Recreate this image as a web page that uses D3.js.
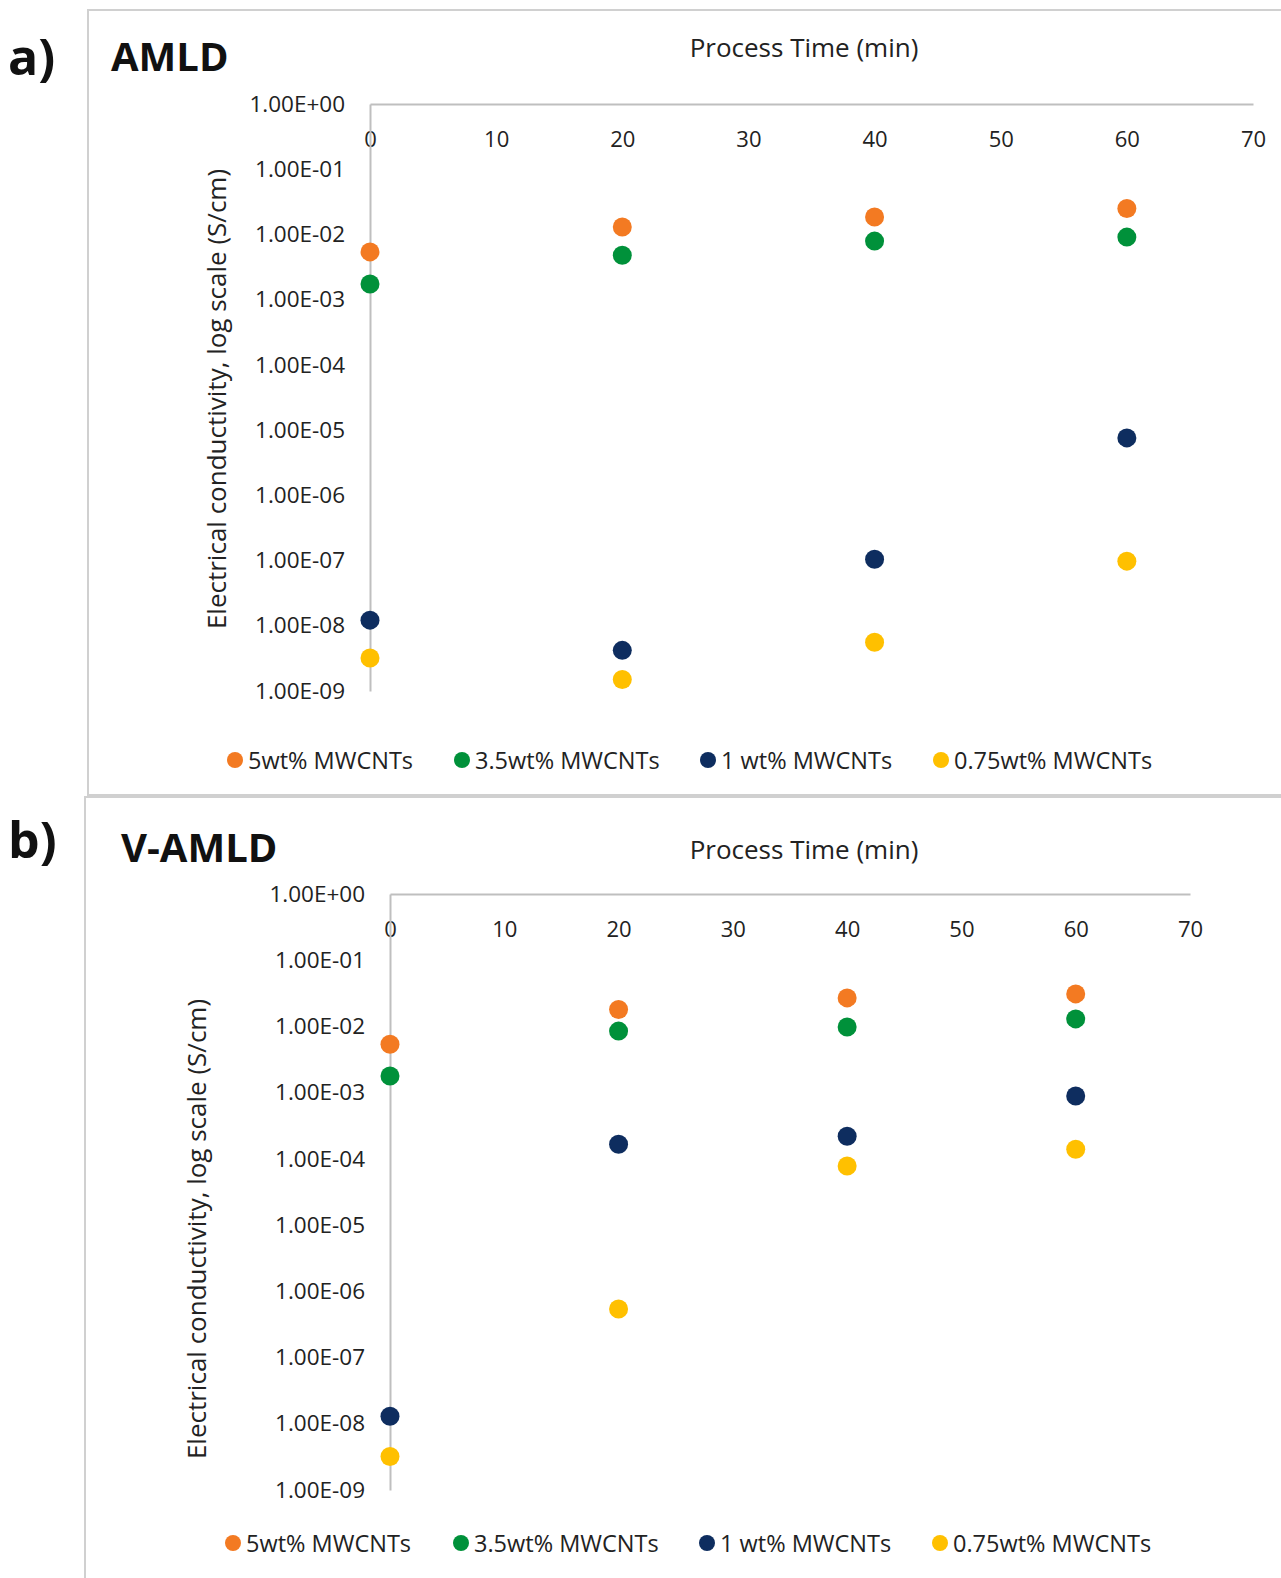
<!DOCTYPE html>
<html><head><meta charset="utf-8">
<script src="https://cdn.jsdelivr.net/npm/d3@7"></script>
<style>body{margin:0;background:#fff}svg{display:block}text{font-family:"Open Sans",sans-serif}</style>
</head><body>
<svg id="c" width="1281" height="1578"></svg>
<script>
const seriesNames = ["5wt% MWCNTs","3.5wt% MWCNTs","1 wt% MWCNTs","0.75wt% MWCNTs"];
const seriesColors = ["#F37A22","#00913A","#0E2D5F","#FFC000"];
const times = [0,20,40,60];
const xTicks = [0,10,20,30,40,50,60,70];
const yTicks = [1e0,1e-1,1e-2,1e-3,1e-4,1e-5,1e-6,1e-7,1e-8,1e-9];
const yTickLabels = ["1.00E+00","1.00E-01","1.00E-02","1.00E-03","1.00E-04","1.00E-05","1.00E-06","1.00E-07","1.00E-08","1.00E-09"];
// Panel a) AMLD
const amld5 = [5.4e-3,1.3e-2,1.85e-2,2.5e-2];
const amld35 = [1.74e-3,4.8e-3,7.9e-3,9.1e-3];
const amld1 = [1.22e-8,4.2e-9,1.05e-7,7.6e-6];
const amld075 = [3.2e-9,1.5e-9,5.6e-9,9.8e-8];
// Panel b) V-AMLD
const vamld5 = [5.4e-3,1.8e-2,2.7e-2,3.1e-2];
const vamld35 = [1.78e-3,8.5e-3,9.8e-3,1.3e-2];
const vamld1 = [1.3e-8,1.66e-4,2.2e-4,8.9e-4];
const vamld075 = [3.2e-9,5.4e-7,7.8e-5,1.4e-4];

const svg = d3.select("#c");
const panels = [
  {letter:"a)", title:"AMLD", data:[amld5,amld35,amld1,amld075],
   box:[88,10,1300,795], letterPos:[8,75], titlePos:[111,71],
   x0:370,x1:1253,y0:104,y1:691, xTitleX:804, xTitleY:57, yTitleX:226, yTitleY:399, legendY:760, legendX:[235,462,708,941]},
  {letter:"b)", title:"V-AMLD", data:[vamld5,vamld35,vamld1,vamld075],
   box:[85,797,1300,1600], letterPos:[8,858], titlePos:[121,862],
   x0:390,x1:1190,y0:894,y1:1490, xTitleX:804, xTitleY:859, yTitleX:206, yTitleY:1229, legendY:1543, legendX:[233,461,707,940]}
];

panels.forEach(p=>{
  const g = svg.append("g");
  g.append("rect").attr("x",p.box[0]).attr("y",p.box[1]).attr("width",p.box[2]-p.box[0]).attr("height",p.box[3]-p.box[1])
    .attr("fill","none").attr("stroke","#d0d0d0").attr("stroke-width",2);
  g.append("text").attr("x",p.letterPos[0]).attr("y",p.letterPos[1]).text(p.letter)
    .attr("font-size",50).attr("font-weight","bold").attr("fill","#111");
  g.append("text").attr("x",p.titlePos[0]).attr("y",p.titlePos[1]).text(p.title)
    .attr("font-size",40).attr("font-weight","bold").attr("fill","#111");

  const x = d3.scaleLinear().domain([0,70]).range([p.x0,p.x1]);
  const y = d3.scaleLog().domain([1,1e-9]).range([p.y0,p.y1]);

  const xa = g.append("g").attr("transform",`translate(0,${p.y0})`)
    .call(d3.axisBottom(x).tickValues(xTicks).tickSize(0).tickPadding(27).tickFormat(d3.format("d")));
  xa.select(".domain").attr("stroke","#bfbfbf").attr("stroke-width",2);
  xa.selectAll("text").attr("font-size",22).attr("fill","#222").attr("font-family","Open Sans");
  const ya = g.append("g").attr("transform",`translate(${p.x0},0)`)
    .call(d3.axisLeft(y).tickValues(yTicks).tickSize(0).tickPadding(25).tickFormat((d,i)=>yTickLabels[i]));
  ya.select(".domain").attr("stroke","#bfbfbf").attr("stroke-width",2);
  ya.selectAll("text").attr("font-size",22.5).attr("fill","#222").attr("font-family","Open Sans");

  g.append("text").attr("x",p.xTitleX).attr("y",p.xTitleY).attr("text-anchor","middle")
    .text("Process Time (min)").attr("font-size",26).attr("fill","#222");
  g.append("text").attr("transform",`translate(${p.yTitleX},${p.yTitleY}) rotate(-90)`)
    .attr("text-anchor","middle").text("Electrical conductivity, log scale (S/cm)")
    .attr("font-size",26).attr("fill","#222");

  p.data.forEach((vals,si)=>{
    g.append("g").selectAll("circle").data(vals).join("circle")
      .attr("cx",(d,i)=>x(times[i])).attr("cy",d=>y(d)).attr("r",9.5)
      .attr("fill",seriesColors[si]);
  });

  seriesNames.forEach((n,si)=>{
    g.append("circle").attr("cx",p.legendX[si]).attr("cy",p.legendY).attr("r",8).attr("fill",seriesColors[si]);
    g.append("text").attr("x",p.legendX[si]+13).attr("y",p.legendY+8.5).text(n)
      .attr("font-size",23.5).attr("fill","#222");
  });
});
</script>
</body></html>
